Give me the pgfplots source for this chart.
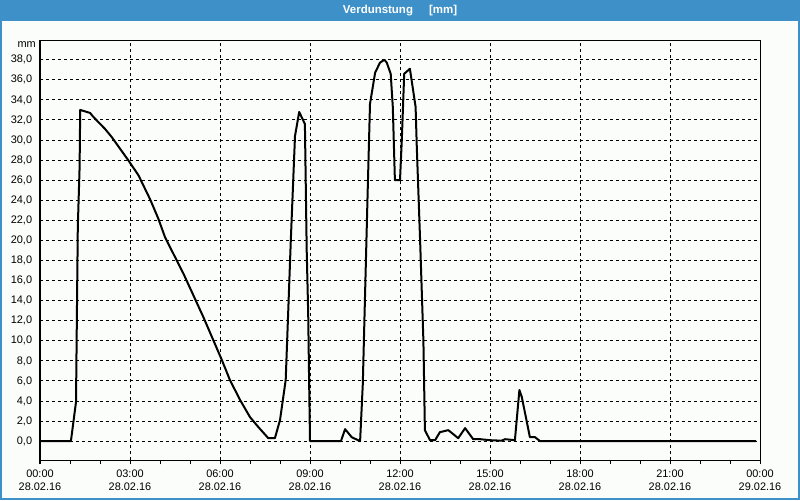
\documentclass[border=0pt]{standalone}
\usepackage{pgfplots}
\pgfplotsset{compat=1.18}
\usepackage{fontspec}
\setmainfont{Liberation Sans}
\definecolor{barblue}{HTML}{3D91C8}
\definecolor{bgc}{HTML}{FBFDFB}
\begin{document}
\fontsize{8.2pt}{9.5pt}\selectfont
\begin{tikzpicture}
\path[use as bounding box] (-30pt,-29.8pt) rectangle (570pt,345.2pt);
\fill[bgc] (-30pt,-29.8pt) rectangle (570pt,345.2pt);
\fill[barblue] (-30pt,329.7pt) rectangle (570pt,345.2pt);
\draw[barblue, line width=1.2pt] (-29.4pt,-29.2pt) rectangle (569.4pt,344.6pt);
\node[text=white, font=\fontsize{8.6pt}{10pt}\selectfont\bfseries] at (270pt,337.3pt) {Verdunstung\hspace{1.4em}[mm]};
\begin{axis}[
  at={(0pt,0pt)}, anchor=south west,
  scale only axis, width=540pt, height=314.7pt,
  xmin=0, xmax=24, ymin=-1.9, ymax=39.9,
  axis line style={line width=0.75pt},
  xtick={0,3,...,24},
  minor xtick={1,2,4,5,7,8,10,11,13,14,16,17,19,20,22,23},
  xticklabels={{00:00\\28.02.16},{03:00\\28.02.16},{06:00\\28.02.16},{09:00\\28.02.16},{12:00\\28.02.16},{15:00\\28.02.16},{18:00\\28.02.16},{21:00\\28.02.16},{00:00\\29.02.16}},
  xticklabel style={align=center, yshift=-1.5pt},
  ytick={0,2,...,38},
  yticklabel style={/pgf/number format/.cd, fixed, fixed zerofill, precision=1, use comma, assume math mode=true},
  ytick style={draw=none},
  tick align=outside,
  xtick pos=bottom,
  major tick length=3pt, minor tick length=3pt,
  tick style={line width=0.75pt, black},
  xmajorgrids, ymajorgrids,
  major grid style={black, line width=0.75pt, dash pattern=on 2.25pt off 2.25pt},
  clip=true,
]
\addplot[black, line width=1.5pt, line join=round] coordinates {
(0,0) (1.03,0) (1.2,3.9) (1.26,21.3) (1.32,27.3) (1.34,33.0)
(1.67,32.7) (1.78,32.3) (2.17,31.1) (2.39,30.3) (2.94,28.0) (3.28,26.5)
(3.67,24.1) (3.94,22.2) (4.17,20.3) (4.78,16.7) (5.44,12.4) (6.06,8.1)
(6.33,6.1) (6.67,4.1) (7.0,2.4) (7.28,1.4) (7.61,0.3) (7.83,0.3)
(8.0,2.1) (8.19,6.1) (8.28,13.4) (8.36,20.0) (8.5,30.4) (8.64,32.8)
(8.83,31.6) (8.89,19.0) (8.94,12.7) (8.97,6.1) (9.0,0)
(10.03,0) (10.17,1.2) (10.39,0.4) (10.67,0)
(10.76,5.7) (10.83,14.0) (10.92,24.6) (11.0,33.6) (11.17,36.7) (11.33,37.7)
(11.48,38.0) (11.56,37.7) (11.69,36.6) (11.76,33.3) (11.83,26.0) (12.0,26.0)
(12.06,30.0) (12.14,36.6) (12.33,37.1) (12.44,34.9) (12.52,33.3) (12.56,29.3)
(12.67,20.0) (12.78,10.0) (12.83,1.1) (13.0,0.1) (13.17,0.1) (13.33,0.9)
(13.61,1.1) (13.94,0.3) (14.17,1.3) (14.44,0.2) (14.67,0.2) (15.0,0.1)
(15.39,0.05) (15.5,0.2) (15.83,0.1) (15.98,5.1) (16.06,4.4) (16.33,0.4)
(16.5,0.4) (16.67,0) (23.87,0)
};
\end{axis}
\node[anchor=east, inner sep=0pt] at (-3pt,311.5pt) {mm};
\end{tikzpicture}
\end{document}
